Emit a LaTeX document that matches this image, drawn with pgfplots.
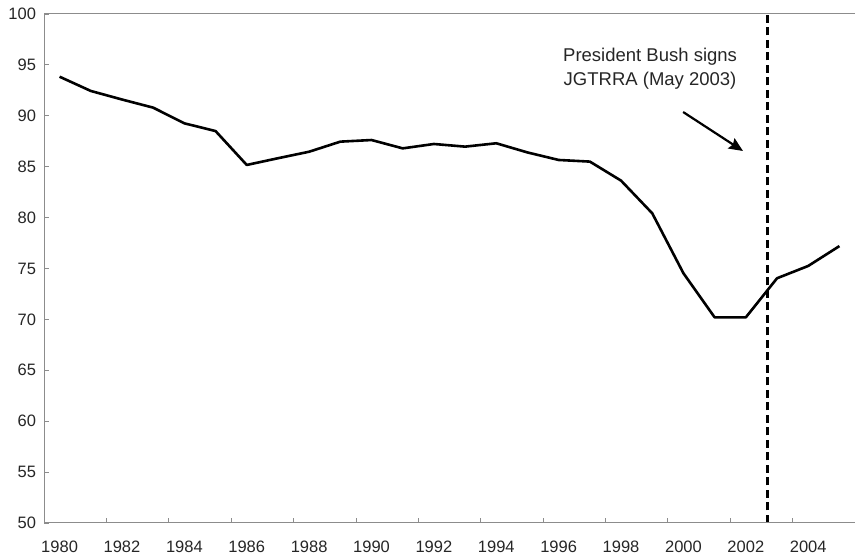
\documentclass[border=0pt]{standalone}
\usepackage{pgfplots}
\pgfplotsset{compat=1.18}
\usepackage{fontspec}
\setmainfont{Liberation Sans}
\usetikzlibrary{arrows.meta}
\definecolor{axgray}{HTML}{8C8C8C}
\definecolor{txt}{HTML}{262626}
\begin{document}
\begin{tikzpicture}
\begin{axis}[
  name=ax,
  scale only axis, width=811bp, height=509bp,
  xmin=1979.5, xmax=2005.5, ymin=50, ymax=100,
  axis line style={draw=none},
  tick align=inside,
  major tick length=5bp,
  tick style={axgray, line width=0.8bp},
  xtick pos=bottom, ytick pos=left,
  xtick={1981.5,1983.5,...,2003.5},
  xticklabels={},
  extra x ticks={1980,1982,1984,1986,1988,1990,1992,1994,1996,1998,2000,2002,2004},
  extra x tick style={tick style={draw=none}},
  /pgf/number format/1000 sep={},
  /pgf/number format/assume math mode=true,
  ytick={50,55,...,100},
  ticklabel style={font=\fontsize{16.5bp}{19bp}\selectfont, text=txt},
  yticklabel style={xshift=-4.5bp},
  xticklabel style={yshift=-14bp},
  clip=false,
]
\addplot[black, line width=2.6bp, line join=round] coordinates {
  (1980,93.84) (1981,92.44) (1982,91.6) (1983,90.8) (1984,89.26)
  (1985,88.5) (1986,85.17) (1987,85.83) (1988,86.47) (1989,87.46)
  (1990,87.62) (1991,86.8) (1992,87.23) (1993,86.97) (1994,87.3)
  (1995,86.4) (1996,85.66) (1997,85.5) (1998,83.63) (1999,80.42)
  (2000,74.53) (2001,70.2) (2002,70.2) (2003,74.04) (2004,75.25)
  (2005,77.2)
};
\addplot[black, line width=3bp, dash pattern=on 8bp off 4.5bp] coordinates {(2002.71,50) (2002.71,100)};
\draw[axgray, line width=1bp] (rel axis cs:0,1) -- (rel axis cs:0,0) -- (rel axis cs:1,0);
\draw[axgray, line width=1bp] (rel axis cs:0,1) -- (rel axis cs:1,1);
\node[align=center, text=txt, font=\fontsize{18.5bp}{24bp}\selectfont] at (axis cs:1998.93,94.6) {President Bush signs\\JGTRRA (May 2003)};
\draw[black, line width=2.2bp, -{Stealth[length=14bp,width=12bp,inset=2bp]}] (axis cs:1999.99,90.37) -- (axis cs:2001.91,86.54);
\end{axis}
\pgfresetboundingbox
\path[use as bounding box] ([shift={(-44bp,-33bp)}]ax.south west) rectangle ([shift={(0bp,14bp)}]ax.north east);
\end{tikzpicture}
\end{document}
